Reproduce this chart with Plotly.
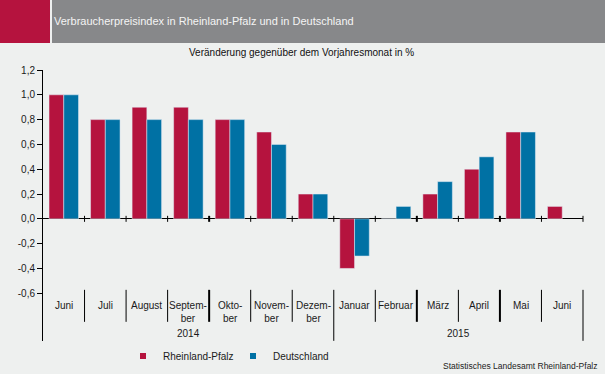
import plotly.graph_objects as go

# ---- data ----
months = ["Juni", "Juli", "August", "Septem-<br>ber", "Okto-<br>ber", "Novem-<br>ber",
          "Dezem-<br>ber", "Januar", "Februar", "März", "April", "Mai", "Juni"]
years = ["2014", "2015"]
year_spans = [(0, 6), (7, 12)]
rlp = [1.0, 0.8, 0.9, 0.9, 0.8, 0.7, 0.2, -0.4, 0.0, 0.2, 0.4, 0.7, 0.1]
de = [1.0, 0.8, 0.8, 0.8, 0.8, 0.6, 0.2, -0.3, 0.1, 0.3, 0.5, 0.7, None]
ytickvals = [-0.6, -0.4, -0.2, 0.0, 0.2, 0.4, 0.6, 0.8, 1.0, 1.2]
yticktext = ["-0,6", "-0,4", "-0,2", "0,0", "0,2", "0,4", "0,6", "0,8", "1,0", "1,2"]
series_names = ["Rheinland-Pfalz", "Deutschland"]

RED = "#B5133E"
BLUE = "#0071A4"
BG = "#EEF0EF"
GRAY = "#87888A"
FONT = "Liberation Sans, Arial, sans-serif"

W, H = 605, 374
ML, MR, MT, MB = 43, 22, 70, 33
PW, PH = W - ML - MR, H - MT - MB


def px(xp):
    return (xp - ML) / PW


def py(yp):
    return (H - MB - yp) / PH


xs = list(range(len(months)))

fig = go.Figure()
fig.add_bar(x=xs, y=rlp, marker_color=RED, name=series_names[0], showlegend=False)
fig.add_bar(x=xs, y=de, marker_color=BLUE, name=series_names[1], showlegend=False)
# legend entries (small squares)
for nm, col in zip(series_names, [RED, BLUE]):
    fig.add_scatter(x=[None], y=[None], mode="markers", name=nm,
                    marker=dict(symbol="square", size=6, color=col))

shapes = []
# header blocks
shapes.append(dict(type="rect", xref="paper", yref="paper", x0=px(0), x1=px(50),
                   y0=py(43), y1=py(0), fillcolor=RED, line_width=0, layer="below"))
shapes.append(dict(type="rect", xref="paper", yref="paper", x0=px(52), x1=px(606),
                   y0=py(43), y1=py(0), fillcolor=GRAY, line_width=0, layer="below"))

y_zero_px = 219
upp = (2.185) / PH  # units per pixel


def yv(yp):
    return (y_zero_px - yp) * upp


n = len(months)
thick = {4, 9, 11}
for b in range(1, n + 1):
    xb = b - 0.5
    long = b in (7, n)
    xr = "x"
    xval = xb
    if b == n:
        xr = "paper"
        xval = 1.0
    w = 2 if b in thick else 1
    # separator in label area
    shapes.append(dict(type="line", xref=xr, yref="y", x0=xval, x1=xval,
                       y0=yv(290), y1=(yv(341) if long else yv(322)),
                       line=dict(color="black", width=w)))
    # tick crossing the zero line
    shapes.append(dict(type="line", xref=xr, yref="y", x0=xval, x1=xval,
                       y0=yv(222), y1=yv(216), line=dict(color="black", width=w)))

annotations = []
for i, m in enumerate(months):
    annotations.append(dict(x=i, y=yv(298), xref="x", yref="y", text=m, showarrow=False,
                            yanchor="top", xanchor="center",
                            font=dict(size=10, color="#1a1a1a", family=FONT)))
for yr, (a, b) in zip(years, year_spans):
    annotations.append(dict(x=(a + b) / 2, y=yv(334), xref="x", yref="y", text=yr,
                            showarrow=False, yanchor="middle",
                            font=dict(size=10, color="#1a1a1a", family=FONT)))
annotations.append(dict(x=px(301), y=py(52), xref="paper", yref="paper",
                        text="Veränderung gegenüber dem Vorjahresmonat in %", showarrow=False,
                        xanchor="center", yanchor="middle",
                        font=dict(size=10, color="#111111", family=FONT)))
annotations.append(dict(x=px(600), y=py(366), xref="paper", yref="paper",
                        text="Statistisches Landesamt Rheinland-Pfalz", showarrow=False,
                        xanchor="right", yanchor="middle",
                        font=dict(size=8.5, color="#222222", family=FONT)))

fig.update_layout(
    width=W, height=H,
    margin=dict(l=ML, r=MR, t=MT, b=MB, autoexpand=False),
    paper_bgcolor=BG, plot_bgcolor=BG,
    barmode="group", bargap=0.29, bargroupgap=0,
    font=dict(family=FONT, size=10, color="#1a1a1a"),
    title=dict(text="Verbraucherpreisindex in Rheinland-Pfalz und in Deutschland",
               x=54 / W, xanchor="left", xref="container",
               y=(H - 21) / H, yanchor="middle", yref="container",
               font=dict(size=11, color="#F4F4F4", family=FONT)),
    xaxis=dict(range=[-0.5, n - 0.5], showgrid=False, zeroline=False, showline=False,
               showticklabels=False, ticks="", fixedrange=True),
    yaxis=dict(range=[-0.985, 1.2], tickvals=ytickvals, ticktext=yticktext,
               showgrid=False, zeroline=True, zerolinecolor="black", zerolinewidth=1,
               showline=True, linecolor="black", linewidth=1,
               ticks="outside", ticklen=5, tickcolor="black", tickwidth=1,
               tickfont=dict(size=10, color="#1a1a1a", family=FONT)),
    legend=dict(orientation="h", x=px(123), xanchor="left", y=py(356), yanchor="middle",
                bgcolor="rgba(0,0,0,0)", font=dict(size=10, color="#1a1a1a", family=FONT),
                entrywidth=65, entrywidthmode="pixels", itemwidth=30,
                tracegroupgap=0),
    shapes=shapes,
    annotations=annotations,
)

fig.write_html("out.html", config={"displayModeBar": False},
               post_script="document.body.style.margin='0';document.body.style.overflow='hidden';")
